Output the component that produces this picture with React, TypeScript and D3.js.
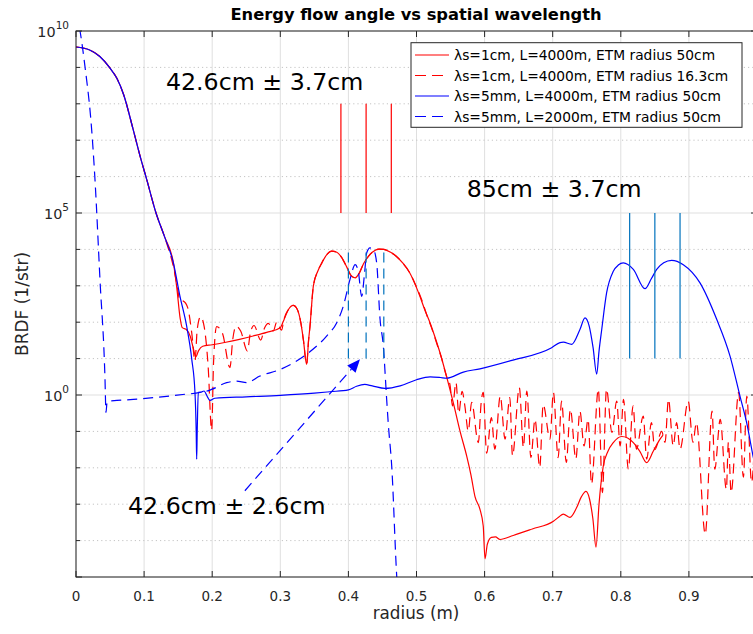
import React from 'react';
import * as d3 from 'd3';

// ---------- data: [radius (m), log10 BRDF] ----------
const redSolid: [number, number][] = [
  [0, 9.56], [0.02, 9.48], [0.035, 9.3], [0.05, 8.98], [0.06, 8.7], [0.07, 8.25], [0.084, 7.29], [0.095, 6.5],
  [0.104, 5.91], [0.1175, 5.0], [0.13, 4.35], [0.143, 3.63], [0.148, 2.95], [0.153, 2.1], [0.156, 1.85],
  [0.162, 1.8], [0.168, 1.6], [0.172, 1.3], [0.176, 1.05], [0.18, 1.22], [0.186, 1.34], [0.2, 1.38],
  [0.22, 1.45], [0.24, 1.53], [0.26, 1.62], [0.28, 1.72], [0.3, 1.85], [0.305, 2.05], [0.312, 2.35],
  [0.319, 2.46], [0.325, 2.35], [0.33, 2.0], [0.334, 1.5], [0.3387, 0.84], [0.3415, 1.5], [0.3436, 1.89],
  [0.3485, 2.99], [0.355, 3.4], [0.361, 3.63], [0.368, 3.85], [0.3755, 3.95], [0.383, 3.92], [0.39, 3.78],
  [0.398, 3.5], [0.404, 3.28], [0.41, 3.22], [0.416, 3.35], [0.422, 3.6], [0.427, 3.75], [0.435, 3.92],
  [0.445, 4.01], [0.452, 4.0], [0.462, 3.92], [0.471, 3.8], [0.48, 3.62], [0.49, 3.36], [0.5, 2.95],
  [0.505, 2.71], [0.512, 2.35], [0.52, 1.98], [0.527, 1.6], [0.5345, 1.16], [0.544, 0.52], [0.554, -0.21],
  [0.564, -1.0], [0.574, -1.7], [0.58, -2.2], [0.586, -2.8], [0.593, -3.13], [0.598, -3.6], [0.6006, -4.5],
  [0.604, -4.1], [0.61, -3.91], [0.616, -3.9], [0.6226, -3.97], [0.642, -3.86], [0.67, -3.68], [0.701, -3.47],
  [0.709, -3.35], [0.7156, -3.27], [0.7254, -3.36], [0.735, -3.1], [0.742, -2.8], [0.7489, -2.65],
  [0.754, -2.85], [0.759, -3.4], [0.7636, -4.18], [0.768, -3.0], [0.7743, -1.95], [0.781, -1.55],
  [0.789, -1.31], [0.8013, -1.14], [0.81, -1.18], [0.8184, -1.31], [0.828, -1.55], [0.838, -1.86],
  [0.8478, -1.54], [0.8576, -1.21], [0.862, -1.1],
];

const redDashed: [number, number][] = [
  [0, 9.56], [0.02, 9.48], [0.035, 9.3], [0.05, 8.98], [0.06, 8.7], [0.07, 8.25], [0.084, 7.29], [0.095, 6.5],
  [0.104, 5.91], [0.1175, 5.0], [0.13, 4.35], [0.136, 4.0], [0.1405, 3.72], [0.1478, 3.08], [0.1527, 2.6],
  [0.1576, 2.58], [0.164, 2.4], [0.17, 1.7], [0.1747, 0.93], [0.178, 1.8], [0.183, 2.15], [0.188, 1.9],
  [0.194, 0.8], [0.1992, -0.97], [0.202, 0.9], [0.2065, 1.88], [0.215, 1.7], [0.2261, 0.75], [0.23, 1.5],
  [0.235, 1.89], [0.242, 1.75], [0.2516, 1.21], [0.256, 1.7], [0.2614, 1.91], [0.2712, 1.51], [0.277, 1.85],
  [0.2824, 1.97], [0.2897, 1.76], [0.2947, 2.0], [0.302, 1.78], [0.305, 2.05], [0.312, 2.35], [0.319, 2.46],
  [0.325, 2.35], [0.33, 2.0], [0.334, 1.5], [0.3387, 0.84], [0.3415, 1.5], [0.3436, 1.89], [0.3485, 2.99],
  [0.355, 3.4], [0.361, 3.63], [0.368, 3.85], [0.3755, 3.95], [0.383, 3.92], [0.39, 3.78], [0.398, 3.5],
  [0.404, 3.28], [0.41, 3.22], [0.416, 3.35], [0.422, 3.6], [0.427, 3.75], [0.435, 3.92], [0.445, 4.01],
  [0.452, 4.0], [0.462, 3.92], [0.471, 3.8], [0.48, 3.62], [0.49, 3.36], [0.5, 2.97], [0.508, 2.6],
  [0.515, 2.2], [0.522, 1.85], [0.53, 1.4], [0.537, 1.0], [0.5418, 0.66], [0.545, 0.46], [0.549, 0.3],
  [0.553, -0.3], [0.558, 0.34], [0.562, -0.5], [0.567, 0.1], [0.571, -0.3], [0.576, -0.99], [0.581, -0.2],
  [0.5908, -1.31], [0.595, -0.2], [0.598, 0.07], [0.603, -1.6], [0.61, -0.62], [0.615, -1.49], [0.623, -0.03],
  [0.63, -1.21], [0.637, -0.07], [0.641, -1.67], [0.651, 0.2], [0.657, -1.44], [0.662, 0.11], [0.668, -1.72],
  [0.674, -0.67], [0.681, -1.99], [0.686, -0.26], [0.696, -1.21], [0.701, 0.07], [0.708, -1.72],
  [0.713, -0.17], [0.72, -1.85], [0.726, -0.39], [0.734, -1.76], [0.74, -0.44], [0.746, -1.4], [0.752, -0.67],
  [0.757, -2.45], [0.767, 0.16], [0.773, -2.68], [0.779, 0.16], [0.787, -1.03], [0.794, -0.17], [0.799, -1.4],
  [0.804, -0.12], [0.811, -2.04], [0.818, -0.3], [0.823, -1.49], [0.833, -0.58], [0.838, -1.76],
  [0.845, -0.76], [0.85, -1.5], [0.86, -1.0], [0.865, -1.3], [0.87, -0.12], [0.877, -1.4], [0.882, -0.76],
  [0.887, -1.49], [0.899, -0.17], [0.906, -1.3], [0.911, -0.76], [0.924, -3.82], [0.934, -0.44],
  [0.938, -2.04], [0.946, -0.67], [0.955, -2.59], [0.958, -1.3], [0.962, -2.68], [0.973, 0.07], [0.98, -2.26],
  [0.985, -0.03], [0.992, -2.4], [0.998, -0.5],
];

const blueSolid: [number, number][] = [
  [0, 9.56], [0.02, 9.48], [0.035, 9.3], [0.05, 8.98], [0.06, 8.7], [0.07, 8.25], [0.084, 7.29], [0.095, 6.5],
  [0.104, 5.91], [0.1175, 5.0], [0.13, 4.35], [0.143, 3.63], [0.1527, 2.71], [0.1625, 1.89], [0.17, 0.98],
  [0.1747, 0.07], [0.1765, -1.0], [0.1772, -1.76], [0.178, -1.0], [0.1796, 0.07], [0.184, 0.08], [0.188, 0.11],
  [0.193, -0.05], [0.1968, -0.15], [0.204, -0.09], [0.25, -0.05], [0.3, -0.01], [0.35, 0.05], [0.373, 0.09],
  [0.4, 0.14], [0.412, 0.24], [0.424, 0.29], [0.435, 0.25], [0.4537, 0.18], [0.476, 0.25], [0.5, 0.42],
  [0.52, 0.5], [0.535, 0.48], [0.544, 0.46], [0.5688, 0.63], [0.5932, 0.72], [0.64, 0.95], [0.6985, 1.3],
  [0.7107, 1.44], [0.7156, 1.45], [0.7279, 1.39], [0.74, 1.8], [0.7474, 2.12], [0.7535, 1.9], [0.7593, 1.3],
  [0.7646, 0.57], [0.768, 1.2], [0.772, 1.8], [0.7792, 2.81], [0.789, 3.4], [0.7963, 3.57], [0.8037, 3.63],
  [0.8184, 3.45], [0.8355, 2.92], [0.845, 3.2], [0.8527, 3.45], [0.863, 3.63], [0.8747, 3.7], [0.8918, 3.58],
  [0.9163, 3.08], [0.9408, 2.08], [0.9604, 1.07], [0.975, -0.03], [0.9848, -0.76], [0.9941, -1.67], [1.0, -2.2],
];

const blueDashed: [number, number][] = [
  [0, 10.5], [0.0059, 10.0], [0.0132, 9.02], [0.023, 7.29], [0.0279, 5.91], [0.0352, 3.17], [0.0426, 0.43],
  [0.044, -0.48], [0.0455, -0.22], [0.0475, -0.17], [0.06, -0.15], [0.0842, -0.12], [0.12, -0.06],
  [0.16, 0.02], [0.182, 0.07], [0.188, 0.12], [0.192, 0.11], [0.2, 0.16], [0.2212, 0.34], [0.236, 0.38],
  [0.2506, 0.34], [0.27, 0.52], [0.2996, 0.7], [0.3387, 1.12], [0.368, 1.62], [0.3827, 1.98], [0.3925, 2.44],
  [0.4023, 3.17], [0.41, 3.58], [0.4145, 3.4], [0.4195, 2.71], [0.4235, 3.3], [0.4268, 3.9], [0.4317, 4.04],
  [0.4366, 4.0], [0.4415, 3.63], [0.4464, 2.1], [0.4513, 1.34], [0.4562, -0.12], [0.4586, -0.8],
  [0.4636, -1.95], [0.4709, -4.96], [0.472, -5.3],
];

// annotation values
const redMarkX = [0.389, 0.426, 0.463];
const redMarkY = [1e5, 1e8];
const blueMarkX = [0.813, 0.85, 0.887];
const blueMarkY = [1e1, 1e5];
const blueDashMarkX = [0.4, 0.426, 0.452];
const blueDashMarkY = [1e1, 1e4];
const notes = [
  { text: '42.6cm ± 3.7cm', x: 0.132, y: 8.38 },
  { text: '85cm ± 3.7cm', x: 0.5737, y: 5.44 },
  { text: '42.6cm ± 2.6cm', x: 0.0764, y: -3.27 },
];
const arrowFrom: [number, number] = [0.248, -2.63];
const arrowTo: [number, number] = [0.417, 0.98];

const xTicks = [0, 0.1, 0.2, 0.3, 0.4, 0.5, 0.6, 0.7, 0.8, 0.9, 1.0];
const xTickLabels = ['0', '0.1', '0.2', '0.3', '0.4', '0.5', '0.6', '0.7', '0.8', '0.9', ''];
const yMajor = [-5, 0, 5, 10];
const yMajorLabels = ['', '0', '5', '10'];
const yMinor = [-4, -3, -2, -1, 1, 2, 3, 4, 6, 7, 8, 9];

const legendItems = [
  { label: 'λs=1cm, L=4000m, ETM radius 50cm', color: '#ff0000', dash: '' },
  { label: 'λs=1cm, L=4000m, ETM radius 16.3cm', color: '#ff0000', dash: '11,6' },
  { label: 'λs=5mm, L=4000m, ETM radius 50cm', color: '#0000ff', dash: '' },
  { label: 'λs=5mm, L=2000m, ETM radius 50cm', color: '#0000ff', dash: '11,6' },
];

const W = 753, H = 634;
const X0 = 76, X1 = 757, Y0 = 31, Y1 = 577;
const FONT = '"DejaVu Sans", sans-serif';
const AX = '#262626';

export default function App() {
  const x = d3.scaleLinear().domain([0, 1]).range([X0, X1]);
  const y = d3.scaleLog().domain([1e-5, 1e10]).range([Y1, Y0]);
  const line = d3.line<[number, number]>()
    .x(d => x(d[0]))
    .y(d => y(Math.pow(10, d[1])))
    .curve(d3.curveMonotoneX);

  const series = [
    { data: redSolid, color: '#ff0000', dash: '' },
    { data: redDashed, color: '#ff0000', dash: '10,6' },
    { data: blueSolid, color: '#0000ff', dash: '' },
    { data: blueDashed, color: '#0000ff', dash: '10,6' },
  ];

  const ax = x(arrowFrom[0]), ay = y(Math.pow(10, arrowFrom[1]));
  const bx = x(arrowTo[0]), by = y(Math.pow(10, arrowTo[1]));
  const ang = Math.atan2(by - ay, bx - ax);
  const headL = 13, headW = 5.5;
  const baseX = bx - headL * Math.cos(ang), baseY = by - headL * Math.sin(ang);
  const head = [
    [bx, by],
    [baseX + headW * Math.sin(ang), baseY - headW * Math.cos(ang)],
    [baseX - headW * Math.sin(ang), baseY + headW * Math.cos(ang)],
  ].map(p => p.join(',')).join(' ');

  const legX = 411, legY = 42.7, legW = 331, legH = 84.6, rowH = 20.5;

  return (
    <svg width={W} height={H} style={{ position: 'absolute', left: 0, top: 0, background: '#fff' }}
      fontFamily={FONT}>
      <defs>
        <clipPath id="plotclip">
          <rect x={X0} y={Y0} width={X1 - X0} height={Y1 - Y0} />
        </clipPath>
      </defs>
      <rect x={0} y={0} width={W} height={H} fill="#fff" />
      {/* grid */}
      {xTicks.map(t => (
        <line key={'gx' + t} x1={x(t)} x2={x(t)} y1={Y0} y2={Y1} stroke="#dfdfdf" strokeWidth={1} />
      ))}
      {yMinor.map(t => (
        <line key={'gm' + t} x1={X0} x2={X1} y1={y(Math.pow(10, t))} y2={y(Math.pow(10, t))}
          stroke="#c4c4c4" strokeWidth={1} strokeDasharray="1.2,3" />
      ))}
      {yMajor.map(t => (
        <line key={'gy' + t} x1={X0} x2={X1} y1={y(Math.pow(10, t))} y2={y(Math.pow(10, t))}
          stroke="#dfdfdf" strokeWidth={1} />
      ))}

      {/* series */}
      <g clipPath="url(#plotclip)" fill="none">
        {series.map((s, i) => (
          <path key={i} d={line(s.data) || ''} stroke={s.color} strokeWidth={1.2}
            strokeDasharray={s.dash || undefined} strokeLinejoin="round" />
        ))}
        {redMarkX.map(v => (
          <line key={'rm' + v} x1={x(v)} x2={x(v)} y1={y(redMarkY[0])} y2={y(redMarkY[1])}
            stroke="#ff0000" strokeWidth={1.2} />
        ))}
        {blueMarkX.map(v => (
          <line key={'bm' + v} x1={x(v)} x2={x(v)} y1={y(blueMarkY[0])} y2={y(blueMarkY[1])}
            stroke="#0072BD" strokeWidth={1.2} />
        ))}
        {blueDashMarkX.map(v => (
          <line key={'bdm' + v} x1={x(v)} x2={x(v)} y1={y(blueDashMarkY[0])} y2={y(blueDashMarkY[1])}
            stroke="#0072BD" strokeWidth={1.2} strokeDasharray="10,6" />
        ))}
      </g>

      {/* arrow */}
      <line x1={ax} y1={ay} x2={baseX} y2={baseY} stroke="#0000ff" strokeWidth={1.2} strokeDasharray="10,6" />
      <polygon points={head} fill="#0000ff" />

      {/* annotation texts */}
      {notes.map(n => (
        <text key={n.text} x={x(n.x)} y={y(Math.pow(10, n.y))} fontSize={23.7} fill="#000">{n.text}</text>
      ))}

      {/* axes box */}
      <rect x={X0} y={Y0} width={X1 - X0} height={Y1 - Y0} fill="none" stroke={AX} strokeWidth={1} />
      {xTicks.map(t => (
        <g key={'xt' + t}>
          <line x1={x(t)} x2={x(t)} y1={Y1} y2={Y1 - 6} stroke={AX} />
          <line x1={x(t)} x2={x(t)} y1={Y0} y2={Y0 + 6} stroke={AX} />
        </g>
      ))}
      {yMajor.map(t => (
        <g key={'yt' + t}>
          <line x1={X0} x2={X0 + 6} y1={y(Math.pow(10, t))} y2={y(Math.pow(10, t))} stroke={AX} />
          <line x1={X1} x2={X1 - 6} y1={y(Math.pow(10, t))} y2={y(Math.pow(10, t))} stroke={AX} />
        </g>
      ))}
      {yMinor.map(t => (
        <g key={'ymt' + t}>
          <line x1={X0} x2={X0 + 4} y1={y(Math.pow(10, t))} y2={y(Math.pow(10, t))} stroke={AX} />
          <line x1={X1} x2={X1 - 4} y1={y(Math.pow(10, t))} y2={y(Math.pow(10, t))} stroke={AX} />
        </g>
      ))}
      {xTicks.map((t, i) => xTickLabels[i] ? (
        <text key={'xl' + t} x={x(t)} y={600.5} textAnchor="middle" fontSize={13.5} fill={AX}>{xTickLabels[i]}</text>
      ) : null)}
      {yMajor.map((t, i) => yMajorLabels[i] ? (
        <text key={'yl' + t} x={69} y={y(Math.pow(10, t)) + 6} textAnchor="end" fontSize={14.4} fill={AX}>
          10<tspan dy={-7.6} fontSize={10.5}>{yMajorLabels[i]}</tspan>
        </text>
      ) : null)}

      {/* labels */}
      <text x={416} y={20} textAnchor="middle" fontSize={16.3} fontWeight="bold" fill="#000">
        Energy flow angle vs spatial wavelength
      </text>
      <text x={416} y={619} textAnchor="middle" fontSize={16.8} fill={AX}>radius (m)</text>
      <text transform={`translate(28,${(Y0 + Y1) / 2}) rotate(-90)`} textAnchor="middle" fontSize={17} fill={AX}>
        BRDF (1/str)
      </text>

      {/* legend */}
      <rect x={legX} y={legY} width={legW} height={legH} fill="#fff" stroke={AX} strokeWidth={1} />
      {legendItems.map((it, i) => {
        const cy = 55 + i * rowH;
        return (
          <g key={it.label}>
            <line x1={415} x2={449} y1={cy} y2={cy} stroke={it.color} strokeWidth={1.2}
              strokeDasharray={it.dash || undefined} />
            <text x={454} y={cy + 5} fontSize={13.8} fill="#000">{it.label}</text>
          </g>
        );
      })}
    </svg>
  );
}
